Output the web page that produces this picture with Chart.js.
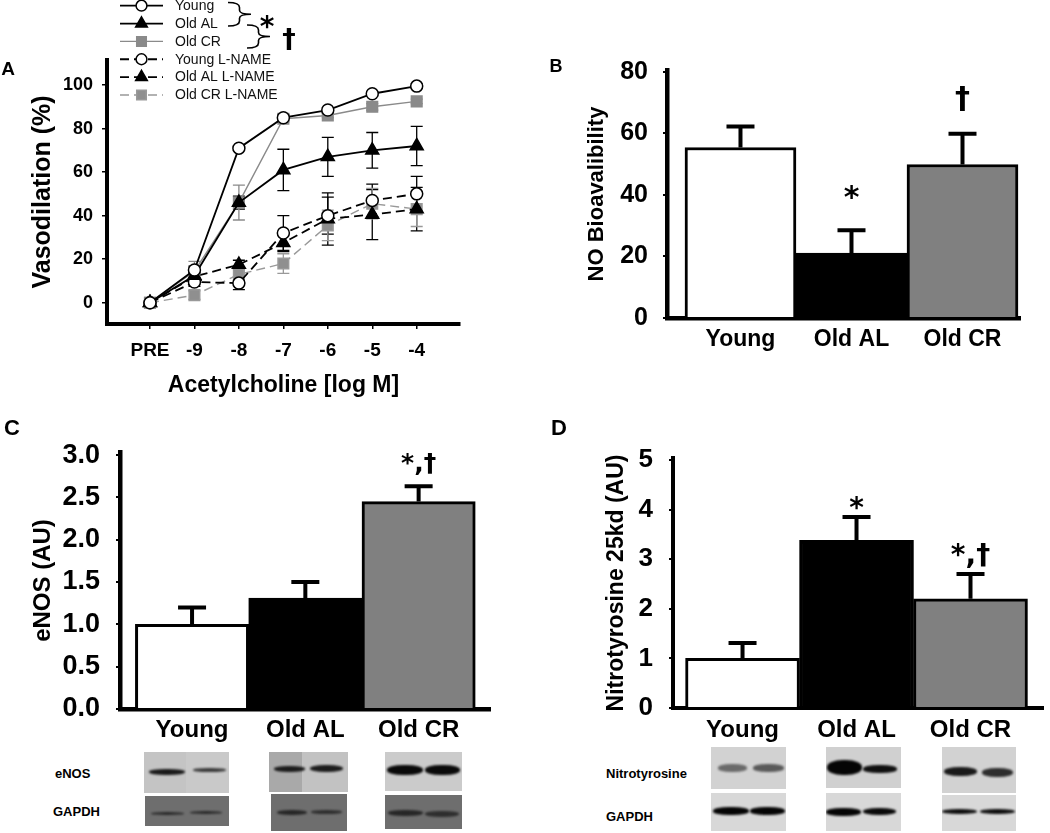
<!DOCTYPE html>
<html>
<head>
<meta charset="utf-8">
<script src="https://cdn.jsdelivr.net/npm/chart.js@4.4.1/dist/chart.umd.min.js"></script>
<style>
  html, body { margin: 0; padding: 0; background: #fff; }
  body { width: 1050px; height: 833px; position: relative; overflow: hidden; font-family: "Liberation Sans", Arial, sans-serif; }
  canvas { position: absolute; }
  .tag { position: absolute; font-weight: bold; line-height: 1; transform: translate(-50%, -50%); }
  .blot { position: absolute; overflow: hidden; }
  .band { position: absolute; border-radius: 45%; filter: blur(1px); }
  .blab { position: absolute; font-weight: bold; font-size: 13px; line-height: 1; transform: translateY(-50%); }
</style>
</head>
<body>
<canvas id="chartA" width="520" height="398" style="left:0;top:0"></canvas>
<canvas id="chartB" width="530" height="320" style="left:520px;top:40px"></canvas>
<canvas id="chartC" width="520" height="345" style="left:0;top:400px"></canvas>
<canvas id="chartD" width="530" height="345" style="left:520px;top:400px"></canvas>

<div class="tag" style="left:8px;top:68px;font-size:19px">A</div>
<div class="tag" style="left:556px;top:66px;font-size:18px">B</div>
<div class="tag" style="left:12px;top:428px;font-size:22px">C</div>
<div class="tag" style="left:559px;top:428px;font-size:22px">D</div>

<div class="blab" style="left:55px;top:773px">eNOS</div>
<div class="blab" style="left:53px;top:811px">GAPDH</div>
<div class="blab" style="left:606px;top:773px">Nitrotyrosine</div>
<div class="blab" style="left:606px;top:816px">GAPDH</div>

<script>
// panel A: vasodilation dose response
const doseLabels = ["PRE", "-9", "-8", "-7", "-6", "-5", "-4"]
const vasoTicks = [0, 20, 40, 60, 80, 100]
const youngVaso = [0, 15, 71, 85, 88.5, 96, 99.5]
const youngVasoErr = [0, 1.5, 1, 1.5, 1, 1, 1]
const oldALVaso = [0, 12.5, 46, 61, 67, 70, 72]
const oldALVasoErr = [0, 2.5, 3, 9.5, 9, 8.2, 9]
const oldCRVaso = [0, 14.5, 46, 84.5, 86, 90, 92.5]
const oldCRVasoErr = [0, 4.5, 8, 1.5, 1, 1.5, 1]
const youngLnameVaso = [0, 9.5, 9, 32, 40, 47, 50]
const youngLnameErr = [0, 2, 3, 8, 8.5, 7.5, 8]
const oldALLnameVaso = [0, 12, 17.5, 27.5, 38.5, 40.5, 43]
const oldALLnameErr = [0, 2, 2, 4, 12, 11.5, 10]
const oldCRLnameVaso = [0, 3.5, 13, 18, 35.5, 45.5, 43]
const oldCRLnameErr = [0, 2, 3, 4.5, 7, 7, 8]

// panels B-D: group bars
const groups = ["Young", "Old AL", "Old CR"]
const noBio = [55.4, 21.1, 49.9]
const noBioErr = [6.8, 7.4, 10]
const noBioMarks = ["", "*", "†"]
const noBioTicks = [0, 20, 40, 60, 80]
const enos = [1.0, 1.31, 2.45]
const enosErr = [0.2, 0.19, 0.18]
const enosMarks = ["", "", "*,†"]
const enosTicks = [0, 0.5, 1.0, 1.5, 2.0, 2.5, 3.0]
const nitro = [1.0, 3.38, 2.2]
const nitroErr = [0.31, 0.47, 0.5]
const nitroMarks = ["", "*", "*,†"]
const nitroTicks = [0, 1, 2, 3, 4, 5]

const FONT = '"Liberation Sans", Arial, sans-serif'
const MARK_FONT = '"DejaVu Sans", "Liberation Sans", sans-serif'
Chart.defaults.font.family = FONT
Chart.defaults.color = "#000"

// work out padding / axis sizes so the plot area lands where it should
function frame(box, area) {
  return {
    padding: { top: area.top - box.top, right: box.left + box.width - area.right, left: 0, bottom: 0 },
    yWidth: area.left - box.left,
    xHeight: box.top + box.height - area.bottom
  }
}

function drawErrors(chart, o) {
  const ctx = chart.ctx
  const yScale = chart.scales.y
  chart.data.datasets.forEach((ds, i) => {
    if (!ds.errs) return
    const meta = chart.getDatasetMeta(i)
    ctx.save()
    ctx.strokeStyle = ds.errColor || "#000"
    ctx.lineWidth = o.width
    meta.data.forEach((el, j) => {
      const v = ds.data[j].y, e = ds.errs[j]
      if (!e) return
      const top = yScale.getPixelForValue(v + e)
      const bot = o.both ? yScale.getPixelForValue(v - e) : el.y
      ctx.beginPath()
      ctx.moveTo(el.x, bot)
      ctx.lineTo(el.x, top)
      ctx.moveTo(el.x - o.cap, top)
      ctx.lineTo(el.x + o.cap, top)
      if (o.both) {
        ctx.moveTo(el.x - o.cap, bot)
        ctx.lineTo(el.x + o.cap, bot)
      }
      ctx.stroke()
    })
    ctx.restore()
  })
}

const errorBars = {
  id: "errorBars",
  beforeDatasetsDraw(chart, args, o) { if (o.under) drawErrors(chart, o) },
  afterDatasetsDraw(chart, args, o) { if (!o.under) drawErrors(chart, o) }
}

const barMarks = {
  id: "barMarks",
  afterDatasetsDraw(chart, args, o) {
    const ctx = chart.ctx
    const ds = chart.data.datasets[0]
    const meta = chart.getDatasetMeta(0)
    ctx.save()
    ctx.fillStyle = "#000"
    ctx.textAlign = "center"
    ctx.textBaseline = "alphabetic"
    ctx.font = "bold " + o.size + "px " + MARK_FONT
    meta.data.forEach((el, j) => {
      const t = o.texts[j]
      if (!t) return
      const top = chart.scales.y.getPixelForValue(ds.data[j].y + ds.errs[j])
      ctx.fillText(t, el.x, top - o.gaps[j])
    })
    ctx.restore()
  }
}

function marker(ctx, ds, x, y, k) {
  const r = ds.pointRadius * k
  ctx.save()
  ctx.setLineDash([])
  ctx.fillStyle = ds.pointBackgroundColor
  ctx.strokeStyle = ds.pointBorderColor
  ctx.lineWidth = ds.pointBorderWidth
  ctx.beginPath()
  if (ds.pointStyle === "circle") {
    ctx.arc(x, y, r, 0, Math.PI * 2)
  } else if (ds.pointStyle === "triangle") {
    ctx.moveTo(x, y - r)
    ctx.lineTo(x + r * 0.866, y + r * 0.5)
    ctx.lineTo(x - r * 0.866, y + r * 0.5)
    ctx.closePath()
  } else {
    const s = r * Math.SQRT1_2
    ctx.rect(x - s, y - s, 2 * s, 2 * s)
  }
  ctx.fill()
  ctx.stroke()
  ctx.restore()
}

function brace(ctx, x, y0, y1, tip) {
  const xm = x + (tip - x) * 0.5
  const ym = (y0 + y1) / 2
  ctx.beginPath()
  ctx.moveTo(x, y0)
  ctx.quadraticCurveTo(xm, y0, xm, y0 + 5)
  ctx.lineTo(xm, ym - 4)
  ctx.quadraticCurveTo(xm, ym, tip, ym)
  ctx.moveTo(tip, ym)
  ctx.quadraticCurveTo(xm, ym, xm, ym + 4)
  ctx.lineTo(xm, y1 - 5)
  ctx.quadraticCurveTo(xm, y1, x, y1)
  ctx.stroke()
}

// legend block of panel A, drawn in the canvas top-left
const vasoLegend = {
  id: "vasoLegend",
  afterDraw(chart) {
    const ctx = chart.ctx
    ctx.save()
    chart.data.datasets.forEach((ds, i) => {
      const y = 5.7 + i * 17.85
      ctx.strokeStyle = ds.borderColor
      ctx.lineWidth = ds.borderWidth
      ctx.setLineDash(ds.borderDash || [])
      ctx.beginPath()
      ctx.moveTo(120, y)
      ctx.lineTo(163, y)
      ctx.stroke()
      marker(ctx, ds, 141.5, y, 0.9)
      ctx.setLineDash([])
      ctx.fillStyle = "#111"
      ctx.font = "14px " + FONT
      ctx.textAlign = "left"
      ctx.textBaseline = "middle"
      ctx.fillText(ds.label, 175, y + 0.5)
    })
    ctx.strokeStyle = "#000"
    ctx.lineWidth = 1.6
    brace(ctx, 228, 2.5, 26, 251)
    brace(ctx, 247, 25, 48, 270)
    ctx.fillStyle = "#000"
    ctx.textAlign = "center"
    ctx.textBaseline = "alphabetic"
    ctx.font = "bold 28px " + MARK_FONT
    ctx.fillText("*", 267, 36)
    ctx.font = "bold 27px " + MARK_FONT
    ctx.fillText("†", 289, 48)
    ctx.restore()
  }
}

function lineSet(label, values, errs, color, style, radius, fill, dash, width) {
  return {
    label: label,
    data: values.map((v, i) => ({ x: i, y: v })),
    errs: errs,
    errColor: color,
    borderColor: color,
    borderWidth: width,
    borderDash: dash,
    tension: 0,
    pointStyle: style,
    pointRadius: radius,
    pointBackgroundColor: fill,
    pointBorderColor: color,
    pointBorderWidth: 1.5
  }
}

const fA = frame({ left: 0, top: 0, width: 520, height: 398 }, { left: 107, top: 60, right: 460, bottom: 324 })
new Chart(document.getElementById("chartA"), {
  type: "line",
  data: {
    datasets: [
      lineSet("Young", youngVaso, youngVasoErr, "#000", "circle", 6, "#fff", [], 1.8),
      lineSet("Old AL", oldALVaso, oldALVasoErr, "#000", "triangle", 7.5, "#000", [], 1.8),
      lineSet("Old CR", oldCRVaso, oldCRVasoErr, "#8a8a8a", "rect", 7.5, "#8a8a8a", [], 1.4),
      lineSet("Young L-NAME", youngLnameVaso, youngLnameErr, "#000", "circle", 6, "#fff", [9, 5], 1.8),
      lineSet("Old AL L-NAME", oldALLnameVaso, oldALLnameErr, "#000", "triangle", 7.5, "#000", [9, 5], 1.8),
      lineSet("Old CR L-NAME", oldCRLnameVaso, oldCRLnameErr, "#999", "rect", 7.5, "#8f8f8f", [9, 5], 1.4)
    ]
  },
  options: {
    responsive: false,
    animation: false,
    layout: { padding: fA.padding },
    plugins: {
      legend: { display: false },
      tooltip: { enabled: false },
      errorBars: { under: true, both: true, cap: 6, width: 1.3 }
    },
    scales: {
      x: {
        type: "linear", min: -0.967, max: 6.974, offset: false,
        afterFit: s => { s.height = fA.xHeight },
        afterBuildTicks: s => { s.ticks = doseLabels.map((d, i) => ({ value: i })) },
        ticks: { callback: v => doseLabels[v], font: { size: 19, weight: "bold" }, color: "#000", padding: 10, maxRotation: 0, autoSkip: false },
        grid: { display: true, drawOnChartArea: false, drawTicks: true, tickLength: 5, color: "#000", lineWidth: 1.5 },
        border: { display: true, color: "#000", width: 4 },
        title: { display: true, text: "Acetylcholine [log M]", font: { size: 23, weight: "bold" }, color: "#000", padding: { top: 0, bottom: -1 } }
      },
      y: {
        min: -9.78, max: 111.5,
        afterFit: s => { s.width = fA.yWidth },
        afterBuildTicks: s => { s.ticks = vasoTicks.map(v => ({ value: v })) },
        ticks: { font: { size: 18, weight: "bold" }, color: "#000", padding: 9 },
        grid: { display: true, drawOnChartArea: false, drawTicks: true, tickLength: 5, color: "#000", lineWidth: 1.5 },
        border: { display: true, color: "#000", width: 4 },
        title: { display: true, text: "Vasodilation (%)", font: { size: 25, weight: "bold" }, color: "#000", padding: { top: 28, bottom: 0 } }
      }
    }
  },
  plugins: [errorBars, vasoLegend]
})

const barColors = ["#ffffff", "#000000", "#808080"]

function barChart(id, box, area, o) {
  const f = frame(box, area)
  return new Chart(document.getElementById(id), {
    type: "bar",
    data: {
      datasets: [{
        data: o.values.map((v, i) => ({ x: i + 1, y: v })),
        errs: o.errs,
        backgroundColor: barColors,
        borderColor: "#000",
        borderWidth: 3,
        borderSkipped: "start",
        barPercentage: 1,
        categoryPercentage: 1
      }]
    },
    options: {
      responsive: false,
      animation: false,
      layout: { padding: f.padding },
      plugins: {
        legend: { display: false },
        tooltip: { enabled: false },
        errorBars: { under: false, both: false, cap: 14, width: 4 },
        barMarks: { texts: o.marks, size: o.markSize, gaps: o.gaps }
      },
      scales: {
        x: {
          type: "linear", min: o.xMin, max: o.xMax, offset: false,
          afterFit: s => { s.height = f.xHeight },
          afterBuildTicks: s => { s.ticks = groups.map((g, i) => ({ value: i + 1 })) },
          ticks: { callback: v => groups[v - 1], font: { size: o.xFont, weight: "bold" }, color: "#000", padding: o.xPad, maxRotation: 0, autoSkip: false },
          grid: { display: false, drawTicks: false },
          border: { display: true, color: "#000", width: o.axisW }
        },
        y: {
          min: 0, max: o.yMax,
          afterFit: s => { s.width = f.yWidth },
          afterBuildTicks: s => { s.ticks = o.ticks.map(v => ({ value: v })) },
          ticks: { callback: o.fmt, font: { size: o.yFont, weight: "bold" }, color: "#000", padding: o.yPad },
          grid: { display: true, drawOnChartArea: false, drawTicks: true, tickLength: 4, color: "#000", lineWidth: 2 },
          border: { display: true, color: "#000", width: o.axisW },
          title: { display: true, text: o.title, font: { size: o.titleSize, weight: "bold" }, color: "#000", padding: { top: o.titlePad, bottom: 0 } }
        }
      }
    },
    plugins: [errorBars, barMarks]
  })
}

barChart("chartB", { left: 520, top: 40, width: 530, height: 320 }, { left: 667, top: 63, right: 1020, bottom: 318 }, {
  values: noBio, errs: noBioErr, marks: noBioMarks, ticks: noBioTicks,
  markSize: 30, gaps: [0, 23, 26],
  xMin: 0.338, xMax: 3.518, yMax: 80.6,
  xFont: 23, xPad: 8, yFont: 25, yPad: 15, axisW: 4.5,
  fmt: v => String(v),
  title: "NO Bioavalibility", titleSize: 22, titlePad: 63.8
})

barChart("chartC", { left: 0, top: 400, width: 520, height: 345 }, { left: 120, top: 452, right: 490, bottom: 709 }, {
  values: enos, errs: enosErr, marks: enosMarks, ticks: enosTicks,
  markSize: 25, gaps: [0, 0, 15],
  xMin: 0.364, xMax: 3.63, yMax: 3.036,
  xFont: 24, xPad: 7, yFont: 27, yPad: 16, axisW: 4.5,
  fmt: v => v.toFixed(1),
  title: "eNOS (AU)", titleSize: 24, titlePad: 28.6
})

barChart("chartD", { left: 520, top: 400, width: 530, height: 345 }, { left: 673, top: 458, right: 1043, bottom: 708 }, {
  values: nitro, errs: nitroErr, marks: nitroMarks, ticks: nitroTicks,
  markSize: 28, gaps: [0, 0, 10],
  xMin: 0.39, xMax: 3.636, yMax: 5.04,
  xFont: 24, xPad: 7.6, yFont: 26, yPad: 16, axisW: 4,
  fmt: v => String(v),
  title: "Nitrotyrosine 25kd (AU)", titleSize: 23, titlePad: 83.2
})

// western blot strips under panels C and D (picture decoration)
const blots = [
  { box: [144, 752, 85, 41, "#c9c9c9"], lanes: [[144, 752, 42, 41, "#c4c4c4"]], bands: [[149, 769, 36, 6, "#1a1a1a"], [193, 768, 33, 4, "#3a3a3a"]] },
  { box: [269, 752, 79, 40, "#c2c2c2"], lanes: [[269, 752, 33, 40, "#a9a9a9"]], bands: [[274, 766, 31, 6, "#1c1c1c"], [310, 765, 33, 7, "#1c1c1c"]] },
  { box: [385, 752, 77, 39, "#cbcbcb"], lanes: [], bands: [[387, 765, 36, 10, "#0a0a0a"], [425, 765, 35, 10, "#0a0a0a"]] },
  { box: [145, 796, 84, 30, "#6e6e6e"], lanes: [], bands: [[151, 812, 33, 3, "#2a2a2a"], [190, 811, 32, 3, "#2a2a2a"]] },
  { box: [271, 794, 76, 37, "#6e6e6e"], lanes: [], bands: [[277, 810, 30, 5, "#262626"], [311, 810, 31, 4, "#2e2e2e"]] },
  { box: [385, 795, 77, 34, "#6e6e6e"], lanes: [], bands: [[388, 810, 35, 6, "#262626"], [425, 811, 34, 6, "#2e2e2e"]] },
  { box: [711, 747, 75, 42, "#d2d2d2"], lanes: [], bands: [[718, 764, 29, 8, "#6a6a6a"], [753, 764, 31, 8, "#5a5a5a"]] },
  { box: [826, 747, 75, 41, "#d0d0d0"], lanes: [], bands: [[827, 760, 35, 15, "#050505"], [863, 765, 34, 8, "#101010"]] },
  { box: [942, 747, 74, 46, "#d2d2d2"], lanes: [], bands: [[944, 767, 33, 9, "#1a1a1a"], [982, 768, 31, 9, "#2e2e2e"]] },
  { box: [711, 793, 75, 38, "#d8d8d8"], lanes: [], bands: [[713, 807, 36, 8, "#050505"], [750, 807, 35, 8, "#050505"]] },
  { box: [826, 793, 75, 38, "#d8d8d8"], lanes: [], bands: [[826, 808, 35, 8, "#050505"], [863, 808, 33, 7, "#0a0a0a"]] },
  { box: [942, 795, 74, 36, "#d8d8d8"], lanes: [], bands: [[942, 809, 35, 5, "#101010"], [980, 809, 35, 5, "#101010"]] }
]

function rectDiv(cls, r, ox, oy) {
  const d = document.createElement("div")
  d.className = cls
  d.style.left = (r[0] - ox) + "px"
  d.style.top = (r[1] - oy) + "px"
  d.style.width = r[2] + "px"
  d.style.height = r[3] + "px"
  d.style.background = r[4]
  return d
}

blots.forEach(b => {
  const box = rectDiv("blot", b.box, 0, 0)
  b.lanes.forEach(l => box.appendChild(rectDiv("blot", l, b.box[0], b.box[1])))
  b.bands.forEach(s => box.appendChild(rectDiv("band", s, b.box[0], b.box[1])))
  document.body.appendChild(box)
})
</script>
</body>
</html>
